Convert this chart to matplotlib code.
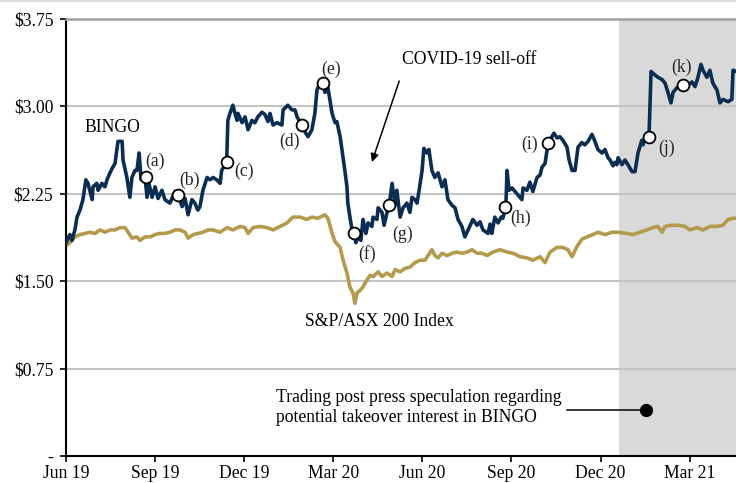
import matplotlib
matplotlib.use("Agg")
import matplotlib.pyplot as plt
from matplotlib.lines import Line2D

plt.rcParams['font.family'] = ['Liberation Serif', 'DejaVu Serif']
plt.rcParams['font.size'] = 12.7

# ---- data (x = months since Jun 2019) ----
bingo_m = [0.00, 0.13, 0.20, 0.30, 0.37, 0.47, 0.57, 0.67, 0.74, 0.88, 0.91, 1.04, 1.08, 1.21, 1.31, 1.38,
           1.48, 1.58, 1.65, 1.75, 1.89, 1.92, 2.05, 2.15, 2.22, 2.32, 2.39, 2.46, 2.53, 2.66, 2.73, 2.79,
           2.90, 3.00, 3.10, 3.23, 3.33, 3.50, 3.67, 3.77, 3.91, 4.01, 4.11, 4.24, 4.34, 4.44, 4.51, 4.61,
           4.75, 4.85, 4.95, 5.08, 5.19, 5.24, 5.41, 5.45, 5.52, 5.62, 5.69, 5.76, 5.79, 5.93, 6.03, 6.13,
           6.26, 6.36, 6.46, 6.60, 6.70, 6.80, 6.87, 6.97, 7.10, 7.27, 7.31, 7.47, 7.61, 7.71, 7.78, 7.95,
           8.05, 8.15, 8.28, 8.38, 8.45, 8.55, 8.65, 8.72, 8.82, 8.96, 9.06, 9.12, 9.23, 9.33, 9.39, 9.46,
           9.49, 9.56, 9.63, 9.70, 9.76, 9.83, 9.93, 10.00, 10.10, 10.17, 10.30, 10.34, 10.47, 10.51, 10.64,
           10.71, 10.81, 10.88, 10.98, 11.08, 11.14, 11.25, 11.35, 11.48, 11.58, 11.65, 11.75, 11.82, 11.89,
           11.99, 12.05, 12.15, 12.22, 12.32, 12.42, 12.53, 12.66, 12.76, 12.86, 13.00, 13.10, 13.20, 13.33,
           13.43, 13.54, 13.70, 13.84, 13.94, 14.04, 14.21, 14.28, 14.34, 14.44, 14.55, 14.65, 14.71, 14.81,
           14.85, 14.92, 15.02, 15.12, 15.22, 15.35, 15.39, 15.52, 15.62, 15.72, 15.86, 15.96, 16.03, 16.13,
           16.23, 16.36, 16.43, 16.53, 16.63, 16.73, 16.87, 16.94, 17.04, 17.14, 17.24, 17.37, 17.47, 17.58,
           17.71, 17.81, 17.91, 18.05, 18.15, 18.25, 18.32, 18.42, 18.48, 18.55, 18.59, 18.72, 18.82, 18.92,
           19.06, 19.16, 19.26, 19.39, 19.43, 19.49, 19.63, 19.70, 19.83, 19.93, 20.07, 20.17, 20.27, 20.37,
           20.44, 20.57, 20.67, 20.77, 20.88, 20.94, 21.08, 21.18, 21.28, 21.38, 21.45, 21.58, 21.68, 21.78,
           21.92, 22.02, 22.12, 22.29, 22.42, 22.46, 22.56]
bingo_p = [1.83, 1.90, 1.85, 1.94, 2.05, 2.11, 2.20, 2.37, 2.34, 2.20, 2.31, 2.34, 2.28, 2.34, 2.31, 2.37,
           2.43, 2.48, 2.51, 2.70, 2.70, 2.54, 2.39, 2.22, 2.39, 2.45, 2.45, 2.60, 2.37, 2.39, 2.22, 2.34,
           2.22, 2.31, 2.21, 2.28, 2.20, 2.17, 2.27, 2.24, 2.14, 2.21, 2.07, 2.20, 2.17, 2.11, 2.14, 2.28,
           2.39, 2.37, 2.39, 2.37, 2.34, 2.45, 2.52, 2.88, 2.94, 3.01, 2.94, 2.88, 2.94, 2.86, 2.91, 2.80,
           2.88, 2.86, 2.91, 2.95, 2.93, 2.87, 2.94, 2.84, 2.86, 2.84, 2.97, 3.01, 2.97, 2.97, 2.91, 2.84,
           2.78, 2.74, 2.80, 2.94, 3.14, 3.20, 3.20, 3.12, 3.16, 2.94, 2.86, 2.87, 2.74, 2.56, 2.45, 2.31,
           2.17, 2.05, 1.94, 1.91, 1.83, 1.88, 1.85, 2.03, 1.91, 2.00, 1.97, 2.05, 2.03, 2.13, 2.09,
           1.98, 2.09, 2.15, 2.34, 2.15, 2.28, 2.05, 2.13, 2.17, 2.09, 2.22, 2.20, 2.17, 2.28,
           2.45, 2.64, 2.60, 2.63, 2.45, 2.39, 2.43, 2.31, 2.37, 2.20, 2.15, 2.13, 2.03, 1.97,
           1.88, 1.94, 2.03, 1.98, 2.01, 1.94, 1.91, 1.99, 1.91, 2.05, 2.00, 2.05, 2.04, 2.14,
           2.45, 2.28, 2.30, 2.27, 2.24, 2.20, 2.30, 2.28, 2.35, 2.27, 2.39, 2.41, 2.48, 2.51,
           2.68, 2.74, 2.77, 2.73, 2.74, 2.71, 2.65, 2.54, 2.45, 2.45, 2.65, 2.69, 2.67, 2.70,
           2.76, 2.70, 2.63, 2.60, 2.63, 2.56, 2.54, 2.49, 2.52, 2.50, 2.56, 2.50, 2.54, 2.50,
           2.44, 2.44, 2.60, 2.71, 2.67, 2.73, 2.74, 3.30, 3.27, 3.25, 3.23, 3.20, 3.12, 3.03,
           3.12, 3.16, 3.17, 3.18, 3.21, 3.18, 3.21, 3.17, 3.25, 3.36, 3.31, 3.25, 3.31, 3.20,
           3.14, 3.03, 3.06, 3.04, 3.06, 3.31, 3.30]

index_m = [0.03, 0.13, 0.30, 0.47, 0.64, 0.81, 0.98, 1.14, 1.31, 1.48, 1.65, 1.82, 1.99, 2.09, 2.22, 2.39,
           2.49, 2.66, 2.83, 3.00, 3.16, 3.33, 3.50, 3.67, 3.84, 4.01, 4.11, 4.28, 4.44, 4.61, 4.78, 4.95,
           5.19, 5.42, 5.62, 5.86, 6.03, 6.13, 6.30, 6.53, 6.77, 6.97, 7.21, 7.44, 7.64, 7.88, 8.11, 8.28,
           8.48, 8.72, 8.82, 8.96, 9.06, 9.23, 9.33, 9.46, 9.56, 9.66, 9.73, 9.80, 9.90, 10.00, 10.13, 10.24,
           10.34, 10.51, 10.64, 10.81, 10.98, 11.08, 11.25, 11.41, 11.58, 11.75, 11.92, 12.09, 12.19, 12.32,
           12.42, 12.53, 12.66, 12.83, 13.00, 13.16, 13.33, 13.50, 13.67, 13.84, 14.01, 14.18, 14.38, 14.61,
           14.85, 15.05, 15.29, 15.52, 15.72, 15.96, 16.13, 16.30, 16.53, 16.73, 16.90, 17.04, 17.21, 17.37,
           17.54, 17.74, 17.91, 18.15, 18.38, 18.59, 18.89, 19.09, 19.33, 19.56, 19.76, 19.93, 20.07, 20.17,
           20.40, 20.61, 20.84, 21.01, 21.25, 21.45, 21.68, 21.92, 22.12, 22.29, 22.46, 22.56]
index_p = [1.81, 1.83, 1.88, 1.90, 1.91, 1.92, 1.91, 1.94, 1.92, 1.94, 1.94, 1.96, 1.96, 1.92, 1.87, 1.88,
           1.85, 1.88, 1.88, 1.90, 1.91, 1.91, 1.92, 1.94, 1.94, 1.92, 1.87, 1.90, 1.91, 1.92, 1.94, 1.94,
           1.92, 1.96, 1.94, 1.97, 1.96, 1.91, 1.96, 1.97, 1.96, 1.94, 1.97, 2.00, 2.05, 2.05, 2.03, 2.05,
           2.04, 2.07, 2.04, 1.91, 1.84, 1.79, 1.68, 1.57, 1.45, 1.40, 1.31, 1.40, 1.42, 1.45, 1.51, 1.55,
           1.54, 1.58, 1.54, 1.57, 1.54, 1.60, 1.58, 1.61, 1.62, 1.66, 1.68, 1.68, 1.72, 1.77,
           1.72, 1.70, 1.74, 1.72, 1.74, 1.75, 1.74, 1.75, 1.77, 1.74, 1.74, 1.72, 1.75, 1.77,
           1.75, 1.74, 1.71, 1.70, 1.68, 1.71, 1.66, 1.75, 1.79, 1.79, 1.77, 1.71, 1.80, 1.86,
           1.88, 1.90, 1.92, 1.90, 1.92, 1.92, 1.91, 1.90, 1.92, 1.94, 1.96, 1.97, 1.92, 1.97,
           1.98, 1.98, 1.97, 1.94, 1.96, 1.94, 1.97, 1.97, 1.98, 2.03, 2.04, 2.04]

event_labels = ['(a)', '(b)', '(c)', '(d)', '(e)', '(f)', '(g)', '(h)', '(i)', '(j)', '(k)']
event_m = [2.68, 3.77, 5.42, 7.95, 8.65, 9.70, 10.88, 14.78, 16.23, 19.63, 20.77]
event_p = [2.39, 2.24, 2.52, 2.84, 3.20, 1.91, 2.15, 2.14, 2.69, 2.74, 3.18]
# label offsets in pixels (dx, dy up)
event_off = [(9, 16), (12, 15), (17, -9), (-13, -16), (8, 14), (13, -21), (13, -29), (16, -12),
             (-18, -2), (18, -12), (-1, 18)]

xtick_pos = [0, 3, 6, 9, 12, 15, 18, 21]
xtick_labels = ['Jun 19', 'Sep 19', 'Dec 19', 'Mar 20', 'Jun 20', 'Sep 20', 'Dec 20', 'Mar 21']
ytick_pos = [0, 0.75, 1.5, 2.25, 3.0, 3.75]
ytick_labels = ['-', '\\$0.75', '\\$1.50', '\\$2.25', '\\$3.00', '\\$3.75']

shade_start, x_end = 18.62, 22.56

NAVY = '#0b2d52'
GOLD = '#b39a4c'

fig = plt.figure(figsize=(7.36, 4.83), dpi=100)
ax = fig.add_axes([66 / 736, 27 / 483, 670 / 736, 437 / 483])
ax.set_xlim(0, x_end)
ax.set_ylim(0, 3.75)

ax.axvspan(shade_start, x_end, color='#d9d9d9', zorder=0.2, lw=0)
ax.yaxis.grid(True, color='#c3c3c3', lw=1.4, zorder=0.5)
ax.set_axisbelow(True)

ax.plot(index_m, index_p, color=GOLD, lw=2.6, zorder=2, solid_joinstyle='round')
ax.plot(bingo_m, bingo_p, color=NAVY, lw=2.6, zorder=3, solid_joinstyle='round')

ax.plot(event_m, event_p, 'o', ms=8.5, mfc='white', mec='black', mew=1.3, zorder=5)
for lab, mx, py, (dx, dy) in zip(event_labels, event_m, event_p, event_off):
    ax.annotate(lab, (mx, py), xytext=(dx, dy), textcoords='offset pixels',
                ha='center', va='center', color='#222222', zorder=6)

ax.text(0.61, 2.82, 'BINGO', ha='left', va='center')
ax.text(8.05, 1.15, 'S&P/ASX 200 Index', ha='left', va='center')
ax.text(11.31, 3.40, 'COVID-19 sell-off', ha='left', va='center')
ax.annotate('', xy=(10.27, 2.50), xytext=(11.25, 3.24),
            arrowprops=dict(arrowstyle='-|>', color='black', lw=1.1, mutation_scale=12))

ax.text(7.07, 0.415, 'Trading post press speculation regarding\npotential takeover interest in BINGO',
        ha='left', va='center', linespacing=1.25)
ax.plot([16.87, 19.53], [0.395, 0.395], color='black', lw=1.1, zorder=4)
ax.plot([19.53], [0.395], 'o', color='black', ms=8.5, zorder=4)

ax.set_xticks(xtick_pos)
ax.set_xticklabels(xtick_labels)
ax.set_yticks(ytick_pos)
ax.set_yticklabels(ytick_labels)
ax.tick_params(axis='both', direction='out', length=4, width=1.2, color='black', labelsize=12.7)
ax.tick_params(axis='y', pad=5)
ax.tick_params(axis='x', pad=2.5)

ax.spines['right'].set_visible(False)
ax.spines['top'].set_color('#a0a0a0')
ax.spines['top'].set_linewidth(1.8)
ax.spines['left'].set_linewidth(1.5)
ax.spines['bottom'].set_linewidth(1.5)

fig.add_artist(Line2D([0, 1], [1 - 1 / 483, 1 - 1 / 483], color='#dddddd', lw=1.5,
                      transform=fig.transFigure))

fig.savefig('out.png', dpi=100)
